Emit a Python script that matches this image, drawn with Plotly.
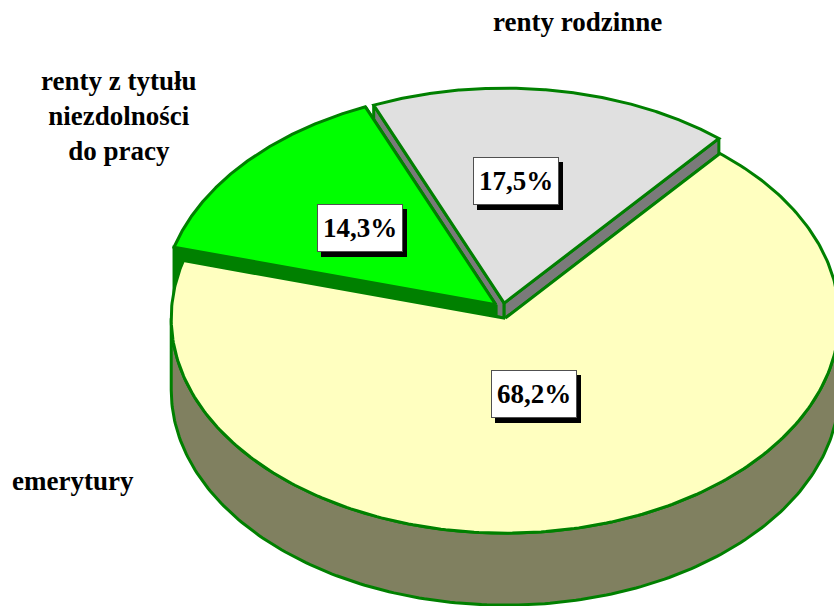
import numpy as np
import plotly.graph_objects as go

# ---- data ----
categories = ["emerytury", "renty z tytułu<br>niezdolności<br>do pracy", "renty rodzinne"]
shares = [68.2, 14.3, 17.5]
share_labels = ["68,2%", "14,3%", "17,5%"]

# ---- style / geometry ----
top_colors = ["#FFFFC0", "#00FF00", "#E0E0E0"]
side_colors = ["#808060", "#008000", "#7A7A7A"]
edge_color = "#008000"
CX, CY, RX, RY, DEPTH = 503.0, 311.0, 334.0, 215.0, 72.0
START = 40.0                 # degrees clockwise from 12 o'clock
explode = [7.5, 9.5, 8.0]    # px
label_frac = [0.364, 0.542, 0.569]      # radial position of value boxes
label_angle_frac = [0.514, 0.5, 0.42]   # angular position within slice
W, H = 834, 606

total = sum(shares)
angles = []
a = START
for v in shares:
    w = v / total * 360.0
    angles.append((a, a + w))
    a += w


def offset(i):
    t0, t1 = angles[i]
    m = np.radians((t0 + t1) / 2)
    return explode[i] * np.sin(m), -explode[i] * np.cos(m)


def rim(i, deg, z=0.0):
    ox, oy = offset(i)
    r = np.radians(deg)
    return CX + ox + RX * np.sin(r), CY + oy - RY * np.cos(r) + z


def apex(i, z=0.0):
    ox, oy = offset(i)
    return CX + ox, CY + oy + z


fig = go.Figure()


def poly(xs, ys, fill):
    fig.add_trace(go.Scatter(
        x=list(xs) + [xs[0]], y=list(ys) + [ys[0]], mode="lines", fill="toself",
        fillcolor=fill, line=dict(color=edge_color, width=3),
        hoverinfo="skip", showlegend=False))


order = [2, 1, 0]  # back to front
for i in order:
    t0, t1 = angles[i]
    # radial walls
    for t in (t0, t1):
        ax, ay = apex(i)
        rx_, ry_ = rim(i, t)
        poly([ax, rx_, rx_, ax], [ay, ry_, ry_ + DEPTH, ay + DEPTH], side_colors[i])
    # outer visible side (between 90 and 270 deg)
    lo, hi = max(t0, 90.0), min(t1, 270.0)
    if hi > lo:
        ts = np.linspace(lo, hi, 200)
        top = [rim(i, t) for t in ts]
        bot = [rim(i, t, DEPTH) for t in ts[::-1]]
        pts = top + bot
        poly([p[0] for p in pts], [p[1] for p in pts], side_colors[i])
    # top face
    ts = np.linspace(t0, t1, 300)
    pts = [apex(i)] + [rim(i, t) for t in ts]
    poly([p[0] for p in pts], [p[1] for p in pts], top_colors[i])

annotations = []
font_pct = dict(family="Liberation Serif, Times New Roman, serif", size=27, color="black")
for i, txt in enumerate(share_labels):
    t0, t1 = angles[i]
    m = np.radians(t0 + (t1 - t0) * label_angle_frac[i])
    ax, ay = apex(i)
    lx = ax + RX * label_frac[i] * np.sin(m)
    ly = ay - RY * label_frac[i] * np.cos(m)
    common = dict(x=lx, y=ly, xref="x", yref="y", showarrow=False,
                  width=80, height=42, borderpad=2)
    # drop shadow box
    annotations.append(dict(common, text="&nbsp;", xshift=4, yshift=-5,
                            bgcolor="black", bordercolor="black", borderwidth=1,
                            font=font_pct))
    annotations.append(dict(common, text="<b>%s</b>" % txt, bgcolor="white",
                            bordercolor="#505050", borderwidth=1, font=font_pct))

font_cat = dict(family="Liberation Serif, Times New Roman, serif", size=27, color="black")
cat_pos = [(73, 481), (119, 116), (577, 22)]
for (x, y), txt in zip(cat_pos, categories):
    annotations.append(dict(x=x, y=y, xref="x", yref="y", showarrow=False,
                            text="<b>%s</b>" % txt, font=font_cat, align="center"))

fig.update_layout(
    width=W, height=H, margin=dict(l=0, r=0, t=0, b=0),
    paper_bgcolor="white", plot_bgcolor="white",
    xaxis=dict(range=[0, W], visible=False, fixedrange=True),
    yaxis=dict(range=[H, 0], visible=False, fixedrange=True),
    annotations=annotations, showlegend=False,
)
fig.write_html("out.html", config={"displayModeBar": False},
               post_script="document.body.style.margin='0';document.body.style.overflow='hidden';")
